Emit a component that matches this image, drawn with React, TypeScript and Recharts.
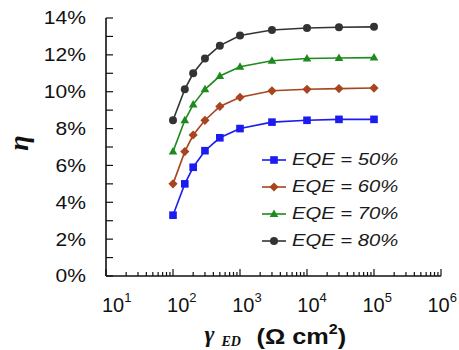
import { LineChart, Line, XAxis, YAxis, Legend } from 'recharts'

// gamma_ED values (Ohm cm^2) shared by all curves
const gammaED = [100, 150, 200, 300, 500, 1000, 3000, 10000, 30000, 100000]

// efficiency eta (%) for each EQE
const eqe50 = [3.3, 5.0, 5.9, 6.8, 7.5, 8.0, 8.35, 8.45, 8.5, 8.5]
const eqe60 = [5.0, 6.75, 7.65, 8.45, 9.2, 9.7, 10.05, 10.13, 10.17, 10.2]
const eqe70 = [6.75, 8.45, 9.3, 10.13, 10.85, 11.35, 11.68, 11.8, 11.83, 11.85]
const eqe80 = [8.45, 10.13, 11.0, 11.8, 12.5, 13.05, 13.35, 13.46, 13.5, 13.52]

const seriesNames = ['EQE = 50%', 'EQE = 60%', 'EQE = 70%', 'EQE = 80%']

const xMajorTicks = [10, 100, 1000, 10000, 100000, 1000000]
const yTicks = [0, 1, 2, 3, 4, 5, 6, 7, 8, 9, 10, 11, 12, 13, 14]

const xTicks: number[] = []
xMajorTicks.forEach((d, i) => {
  xTicks.push(d)
  if (i < xMajorTicks.length - 1) {
    for (let m = 2; m <= 9; m++) xTicks.push(d * m)
  }
})

const data = gammaED.map((g, i) => ({
  g,
  e50: eqe50[i],
  e60: eqe60[i],
  e70: eqe70[i],
  e80: eqe80[i],
}))

const series = [
  { key: 'e50', name: seriesNames[0], color: '#1c1cf0', shape: 'square' },
  { key: 'e60', name: seriesNames[1], color: '#a8441e', shape: 'diamond' },
  { key: 'e70', name: seriesNames[2], color: '#1e8a1e', shape: 'triangle' },
  { key: 'e80', name: seriesNames[3], color: '#333333', shape: 'circle' },
]

const SANS = '"Liberation Sans", Arial, sans-serif'
const SERIF = '"Liberation Serif", "Times New Roman", serif'
const INK = '#111'

function Marker({ cx, cy, color, shape }: any) {
  if (cx == null || cy == null) return null
  if (shape === 'square') return <rect x={cx - 3.8} y={cy - 3.8} width={7.6} height={7.6} fill={color} />
  if (shape === 'diamond')
    return <polygon points={`${cx},${cy - 4.6} ${cx + 4.6},${cy} ${cx},${cy + 4.6} ${cx - 4.6},${cy}`} fill={color} />
  if (shape === 'triangle')
    return <polygon points={`${cx},${cy - 4.6} ${cx + 4.3},${cy + 3} ${cx - 4.3},${cy + 3}`} fill={color} />
  return <circle cx={cx} cy={cy} r={4} fill={color} />
}

function XTick({ x, y, payload }: any) {
  const lg = Math.log10(payload.value)
  const exp = Math.round(lg)
  const major = Math.abs(lg - exp) < 1e-6
  // labels in the original sit a little left of their ticks, more so to the right
  const lx = x - 4 - (exp - 1) * 1.9
  return (
    <g>
      <line x1={x} x2={x} y1={y} y2={y - (major ? 7 : 4)} stroke={INK} strokeWidth={1.2} />
      {major && (
        <text x={lx} y={y + 36} fontSize={20} fontFamily={SANS} fill={INK}>
          10
          <tspan fontSize={13} dy={-10}>{exp}</tspan>
        </text>
      )}
    </g>
  )
}

function YTickLeft({ x, y, payload }: any) {
  const v = payload.value
  return (
    <g>
      <line x1={x} x2={x + 7} y1={y} y2={y} stroke={INK} strokeWidth={1.2} />
      {v % 2 === 0 && (
        <g transform={`translate(${x - 20},${y}) scale(1.17,1)`}>
          <text x={0} y={0} textAnchor="end" dominantBaseline="central" fontSize={18} fontFamily={SANS} fill={INK}>
            {v}%
          </text>
        </g>
      )}
    </g>
  )
}

function YTickRight({ x, y }: any) {
  return <line x1={x} x2={x - 7} y1={y} y2={y} stroke={INK} strokeWidth={1.2} />
}

function XLabel({ viewBox }: any) {
  const cx = viewBox.x + viewBox.width / 2
  return (
    <g fill={INK}>
      <text x={cx - 69} y={342} fontSize={24} fontFamily={SERIF} fontStyle="italic" fontWeight="bold">γ</text>
      <text x={cx - 52} y={346} fontSize={14} fontFamily={SERIF} fontStyle="italic" fontWeight="bold">ED</text>
      <g transform={`translate(${cx - 17},344) scale(1.15,1)`}>
        <text x={0} y={0} fontSize={22} fontFamily={SANS} fontWeight="bold">
          (Ω cm
          <tspan fontSize={14} dy={-10}>2</tspan>
          <tspan fontSize={22} dy={10}>)</tspan>
        </text>
      </g>
    </g>
  )
}

function YLabel() {
  return (
    <text
      x={18}
      y={143}
      transform="rotate(-90, 18, 143)"
      textAnchor="middle"
      dominantBaseline="central"
      fontSize={28}
      fontFamily={SERIF}
      fontStyle="italic"
      fontWeight="bold"
      fill={INK}
    >
      η
    </text>
  )
}

function LegendBox() {
  return (
    <div style={{ fontFamily: SANS, fontStyle: 'italic', fontSize: 17, color: '#1a1a1a' }}>
      {series.map((s) => (
        <div key={s.key} style={{ display: 'flex', alignItems: 'center', height: 27 }}>
          <svg width={24} height={12}>
            <line x1={0} x2={24} y1={6} y2={6} stroke={s.color} strokeWidth={1.6} />
            <Marker cx={12} cy={6} color={s.color} shape={s.shape} />
          </svg>
          <span style={{ marginLeft: 6, display: 'inline-block', transform: 'scaleX(1.19)', transformOrigin: 'left center', whiteSpace: 'nowrap' }}>
            {s.name}
          </span>
        </div>
      ))}
    </div>
  )
}

export default function App() {
  return (
    <div style={{ position: 'absolute', left: 0, top: 0, background: '#fff' }}>
      <LineChart width={459} height={350} data={data} margin={{ top: 18, right: 18, bottom: 0, left: 0 }}>
        <XAxis
          dataKey="g"
          type="number"
          scale="log"
          domain={[10, 1000000]}
          allowDataOverflow
          ticks={xTicks}
          interval={0}
          tickSize={0}
          tickMargin={0}
          tick={<XTick />}
          height={74}
          axisLine={{ stroke: INK, strokeWidth: 1.6 }}
          label={<XLabel />}
        />
        <XAxis
          xAxisId="top"
          orientation="top"
          dataKey="g"
          type="number"
          scale="log"
          domain={[10, 1000000]}
          allowDataOverflow
          height={0}
          tick={false}
          tickLine={false}
          axisLine={{ stroke: INK, strokeWidth: 1.6 }}
        />
        <YAxis
          type="number"
          domain={[0, 14]}
          ticks={yTicks}
          interval={0}
          tickSize={0}
          tickMargin={0}
          tick={<YTickLeft />}
          width={106}
          axisLine={{ stroke: INK, strokeWidth: 1.6 }}
          label={<YLabel />}
        />
        <YAxis
          yAxisId="right"
          orientation="right"
          type="number"
          domain={[0, 14]}
          ticks={yTicks}
          interval={0}
          tickSize={0}
          tickMargin={0}
          tick={<YTickRight />}
          width={0}
          axisLine={{ stroke: INK, strokeWidth: 1.6 }}
        />
        <Legend
          layout="vertical"
          align="center"
          verticalAlign="middle"
          content={<LegendBox />}
          wrapperStyle={{ left: 262, top: 146, width: 'auto' }}
        />
        {series.map((s) => (
          <Line
            key={s.key}
            dataKey={s.key}
            name={s.name}
            stroke={s.color}
            strokeWidth={1.6}
            isAnimationActive={false}
            activeDot={false}
            dot={(p: any) => <Marker key={`${s.key}-${p.index}`} cx={p.cx} cy={p.cy} color={s.color} shape={s.shape} />}
          />
        ))}
      </LineChart>
    </div>
  )
}
